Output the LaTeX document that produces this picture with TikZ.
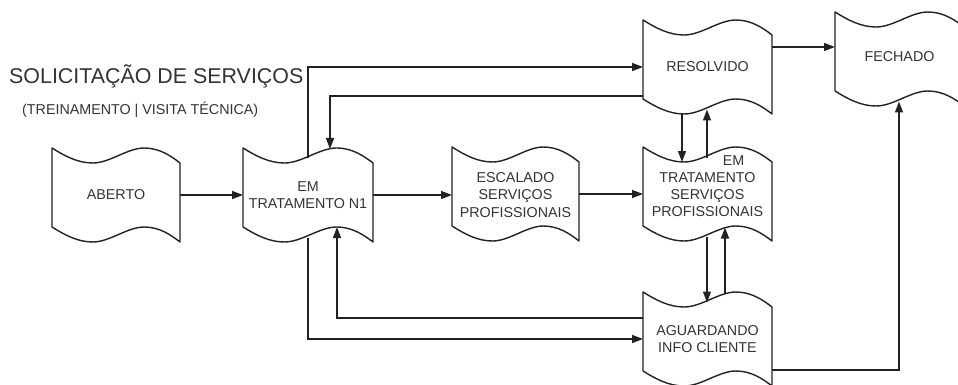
\documentclass[tikz,border=0pt]{standalone}
\usepackage{fontspec}
\setmainfont{Liberation Sans}
\usetikzlibrary{arrows.meta,calc}
\definecolor{lineclr}{HTML}{222222}
\definecolor{txtclr}{HTML}{333333}
\tikzset{
  shapeline/.style={draw=lineclr, line width=1.4pt, line join=round, fill=white},
  boxarea/.style={inner sep=0pt, outer sep=0pt, draw=none},
  boxtext/.style={inner sep=0pt, outer sep=0pt, align=center, text=txtclr,
    font=\fontsize{14.3}{17.2}\selectfont},
  arr/.style={draw=lineclr, line width=1.4pt, -{Triangle[length=11pt,width=8pt]}},
}
\newcommand{\wavenode}[6]{%
  \begin{scope}[shift={(#2,#3)}]
    \draw[shapeline] (0,0)
      .. controls ({0.1*#4},8) and ({0.2*#4},15) .. ({0.32*#4},15)
      .. controls ({0.45*#4},15) and ({0.59*#4},0) .. ({0.72*#4},0)
      .. controls ({0.84*#4},0) and ({0.93*#4},8) .. (#4,15)
      -- (#4,94)
      .. controls ({0.93*#4},87) and ({0.84*#4},79) .. ({0.72*#4},79)
      .. controls ({0.59*#4},79) and ({0.45*#4},94) .. ({0.32*#4},94)
      .. controls ({0.2*#4},94) and ({0.1*#4},87) .. (0,79)
      -- cycle;
    \node[boxarea, minimum width=#4, minimum height=94] (#1) at ({#4/2},47) {};
    \node[boxtext] (#1-t) at ({#4/2},{47+#6}) {#5};
  \end{scope}}
\begin{document}
\begin{tikzpicture}[x=1pt,y=-1pt]
  \useasboundingbox[fill=white] (0,0) rectangle (958,385);

  \wavenode{aberto}{52}{148}{128}{ABERTO}{0}
  \wavenode{n1}{243}{148}{130}{EM\\TRATAMENTO N1}{0}
  \wavenode{esc}{452}{147}{127}{ESCALADO\\SERVIÇOS\\PROFISSIONAIS}{1}
  \wavenode{tsp}{643}{147}{129}{\hspace*{52pt}EM\\TRATAMENTO\\SERVIÇOS\\PROFISSIONAIS}{-8}
  \wavenode{res}{643}{20}{129}{RESOLVIDO}{0}
  \wavenode{fech}{835}{12}{129}{FECHADO}{-2}
  \wavenode{agu}{643}{292}{129}{AGUARDANDO\\INFO CLIENTE}{0}

  \node[anchor=west, inner sep=0pt, text=txtclr, font=\fontsize{21.4}{25}\selectfont]
    (title) at (9,76) {SOLICITAÇÃO DE SERVIÇOS};
  \node[anchor=west, inner sep=0pt, text=txtclr, font=\fontsize{14.3}{17}\selectfont]
    (subtitle) at (22,110) {(TREINAMENTO | VISITA TÉCNICA)};

  % main flow
  \draw[arr] (aberto.east) -- (aberto.east -| n1.west);
  \draw[arr] (n1.east) -- (n1.east -| esc.west);
  \draw[arr] (esc.east) -- (esc.east -| tsp.west);

  % N1 <-> RESOLVIDO
  \draw[arr] ($(n1.north west)+(65,10)$) |- (res.west);
  \draw[arr] ($(res.north west)+(0,76)$) -| ($(n1.north west)+(87,1)$);

  % RESOLVIDO <-> TSP
  \draw[arr] ($(res.south west)+(39,0)$) -- ($(tsp.north west)+(39,15)$);
  \draw[arr] ($(tsp.north west)+(64,10.5)$) -- ($(res.north west)+(64,89.5)$);

  % TSP <-> AGUARDANDO
  \draw[arr] ($(tsp.north west)+(64,89.5)$) -- ($(agu.north west)+(64,10.5)$);
  \draw[arr] ($(agu.north west)+(82,1.5)$) -- ($(tsp.north west)+(82,80.5)$);

  % N1 <-> AGUARDANDO
  \draw[arr] ($(n1.north west)+(65,89.5)$) |- (agu.west);
  \draw[arr] ($(agu.north west)+(0,26)$) -| ($(n1.south west)+(94,-15)$);

  % to FECHADO
  \draw[arr] ($(res.north east)+(0,27)$) -- ($(fech.north west)+(0,35)$);
  \draw[arr] ($(agu.north east)+(0,78)$) -| ($(fech.south west)+(64,-4.5)$);
\end{tikzpicture}
\end{document}
